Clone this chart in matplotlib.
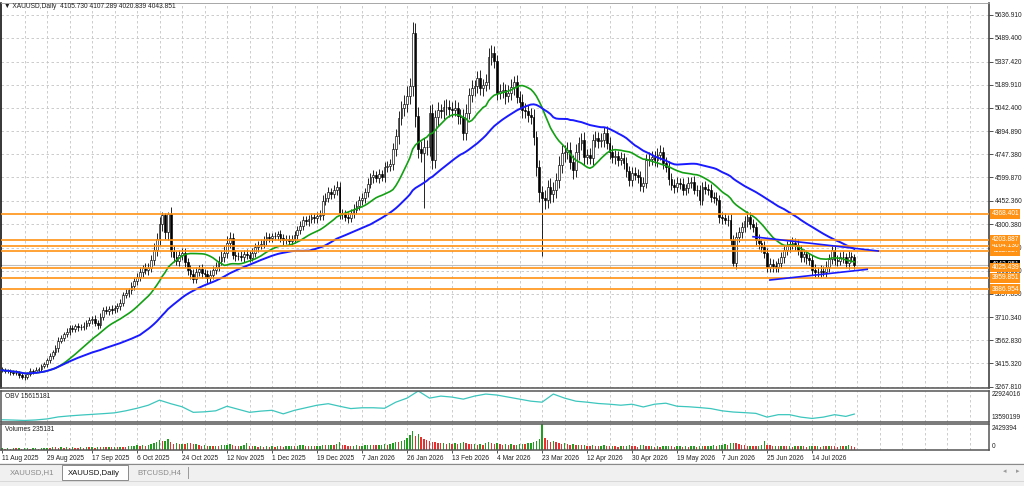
import numpy as np
import pandas as pd
import matplotlib
matplotlib.use('Agg')
import matplotlib.pyplot as plt
from matplotlib.patches import Rectangle
from matplotlib.lines import Line2D

plt.rcParams['font.family'] = ['Liberation Sans', 'DejaVu Sans']

# ---- data (daily bars, 11 Aug 2025 .. end Jul 2026) ----
first_open = 3380
closes = [
    3372, 3365, 3368, 3358, 3352, 3355, 3340, 3330, 3326, 3345, 3368, 3362, 3375, 3380, 3398, 3410,
    3435, 3462, 3485, 3510, 3560, 3575, 3600, 3618, 3640, 3632, 3650, 3644, 3648, 3655, 3672, 3690,
    3700, 3672, 3660, 3712, 3755, 3748, 3760, 3752, 3770, 3778, 3800, 3850, 3862, 3880, 3905, 3940,
    3965, 3998, 4022, 4010, 4025, 4075, 4140, 4210, 4300, 4360, 4250, 4365, 4130, 4095, 4070, 4105,
    4118, 4060, 4012, 3985, 3955, 4000, 4015, 3990, 3985, 3960, 3980, 4010, 4030, 4070, 4095, 4120,
    4182, 4214, 4108, 4100, 4098, 4092, 4110, 4104, 4088, 4120, 4155, 4170, 4175, 4200, 4222, 4215,
    4225, 4228, 4236, 4215, 4200, 4208, 4196, 4205, 4230, 4265, 4290, 4328, 4320, 4335, 4345, 4338,
    4352, 4360, 4450, 4470, 4505, 4495, 4520, 4540, 4375, 4365, 4350, 4340, 4372, 4395, 4420, 4456,
    4470, 4505, 4560, 4600, 4612, 4598, 4618, 4605, 4665, 4672, 4682, 4778, 4860, 4975, 5043, 5070,
    5120, 5180, 5520, 4990, 4780, 4755, 4795, 4790, 5010, 4712, 4985, 5030, 5020, 5045, 5050, 5035,
    5028, 5040, 4990, 4985, 4885, 5010, 5125, 5170, 5180, 5235, 5170, 5188, 5210, 5365, 5392, 5340,
    5140, 5150, 5156, 5120, 5140, 5175, 5208, 5112, 5080, 5030, 5020, 4995, 4985, 4858, 4667, 4505,
    4470, 4456, 4540, 4495, 4520, 4580, 4680, 4754, 4760, 4773, 4700, 4647, 4760, 4818, 4837, 4730,
    4740, 4725, 4835, 4850, 4830, 4840, 4882, 4818, 4760, 4730, 4735, 4711, 4720, 4692, 4640, 4583,
    4628, 4615, 4603, 4545, 4565, 4711, 4715, 4730, 4710, 4745, 4760, 4692, 4667, 4590, 4552, 4539,
    4565, 4560, 4520, 4530, 4565, 4571, 4522, 4518, 4456, 4539, 4525, 4520, 4475, 4470, 4456, 4347,
    4340, 4330, 4328, 4200, 4054, 4220, 4250, 4284, 4320, 4347, 4300, 4284, 4201, 4180, 4157, 4118,
    4029, 4050, 4035, 4030, 4054, 4090, 4137, 4160, 4175, 4182, 4170, 4137, 4093, 4110, 4085, 4073,
    4010, 4000, 3997, 4005, 3999, 4029, 4080, 4137, 4073, 4070, 4093, 4090, 4054, 4095, 4093, 4044,
]
upper_wick = [
    12, 15, 10, 14, 12, 18, 10, 12, 16, 14, 18, 12, 15, 10, 14, 12,
    15, 20, 18, 25, 20, 22, 15, 20, 18, 22, 15, 20, 18, 25, 20, 22,
    18, 25, 20, 22, 18, 24, 20, 26, 18, 22, 25, 20, 24, 18, 26, 22,
    25, 30, 22, 35, 28, 30, 40, 35, 45, 18, 10, 15, 45, 30, 35, 30,
    30, 35, 25, 30, 28, 32, 25, 30, 28, 26, 30, 25, 28, 30, 35, 40,
    45, 40, 30, 28, 25, 30, 28, 32, 25, 30, 28, 26, 30, 24, 28, 25,
    22, 26, 24, 28, 22, 26, 24, 28, 30, 26, 30, 28, 24, 26, 30, 28,
    25, 30, 35, 28, 32, 30, 28, 35, 30, 26, 28, 30, 28, 32, 30, 28,
    30, 28, 35, 30, 32, 28, 35, 30, 34, 30, 35, 40, 45, 50, 45, 55,
    60, 55, 70, 65, 60, 50, 55, 45, 50, 55, 45, 50, 40, 45, 50, 40,
    45, 50, 40, 45, 50, 55, 45, 50, 40, 45, 50, 40, 45, 60, 50, 45,
    40, 45, 50, 40, 45, 50, 40, 45, 40, 50, 45, 40, 45, 50, 40, 45,
    40, 50, 45, 55, 50, 45, 55, 50, 45, 55, 50, 45, 50, 40, 45, 50,
    40, 45, 40, 45, 40, 45, 40, 45, 40, 45, 40, 35, 40, 35, 40, 35,
    35, 40, 35, 40, 35, 40, 45, 40, 35, 40, 45, 35, 40, 35, 40, 35,
    35, 30, 35, 30, 35, 30, 35, 30, 35, 30, 35, 30, 35, 30, 35, 30,
    30, 35, 30, 40, 35, 30, 35, 30, 35, 40, 30, 35, 30, 35, 30, 35,
    30, 35, 30, 35, 30, 35, 30, 35, 30, 35, 30, 35, 30, 35, 30, 35,
    30, 35, 30, 35, 30, 35, 30, 35, 30, 35, 30, 35, 30, 35, 30, 20,
]
lower_wick = [
    14, 10, 12, 16, 12, 10, 15, 12, 14, 10, 12, 16, 10, 14, 12, 10,
    18, 15, 20, 18, 22, 15, 20, 18, 22, 20, 18, 22, 15, 20, 18, 20,
    22, 20, 25, 18, 22, 20, 24, 22, 18, 25, 20, 22, 18, 24, 20, 25,
    28, 25, 30, 28, 32, 30, 35, 40, 38, 45, 40, 50, 40, 35, 30, 32,
    30, 28, 32, 35, 30, 28, 30, 32, 28, 30, 26, 30, 28, 26, 30, 32,
    35, 30, 28, 30, 26, 28, 30, 26, 28, 24, 26, 28, 24, 26, 28, 24,
    24, 22, 26, 24, 28, 22, 26, 24, 22, 26, 28, 24, 26, 28, 24, 26,
    28, 26, 30, 28, 26, 30, 28, 30, 40, 32, 30, 28, 26, 30, 28, 30,
    30, 32, 30, 28, 35, 30, 32, 30, 35, 32, 30, 35, 40, 45, 40, 50,
    55, 50, 60, 70, 60, 55, 350, 50, 55, 60, 50, 55, 45, 50, 45, 50,
    45, 40, 50, 45, 50, 45, 40, 45, 50, 40, 45, 50, 40, 45, 50, 45,
    45, 40, 45, 50, 40, 45, 50, 40, 45, 50, 45, 40, 45, 55, 60, 65,
    370, 55, 50, 60, 55, 50, 45, 50, 55, 45, 50, 55, 45, 50, 45, 50,
    45, 40, 45, 40, 45, 40, 45, 40, 45, 40, 45, 40, 35, 40, 35, 40,
    40, 35, 40, 35, 40, 35, 40, 35, 40, 45, 35, 40, 35, 40, 35, 40,
    30, 35, 30, 35, 30, 35, 30, 35, 30, 35, 30, 35, 30, 35, 30, 35,
    35, 30, 35, 30, 20, 35, 30, 35, 30, 35, 30, 35, 30, 35, 30, 35,
    35, 30, 35, 30, 35, 30, 35, 30, 35, 30, 35, 30, 35, 30, 35, 30,
    30, 35, 30, 35, 30, 35, 30, 35, 30, 35, 30, 35, 30, 35, 30, 25,
]
# tick volume, thousands
volumes = [
    150, 120, 140, 110, 160, 130, 170, 120, 140, 160, 110, 130, 180, 120, 150, 190,
    210, 180, 250, 230, 200, 260, 190, 220, 170, 240, 210, 180, 230, 200, 250, 220,
    240, 210, 280, 230, 260, 220, 300, 250, 270, 230, 310, 290, 260, 330, 350, 380,
    420, 380, 460, 400, 480, 520, 600, 700, 950, 820, 880, 1000, 760, 560, 600, 520,
    580, 560, 620, 600, 540, 580, 480, 380, 420, 360, 400, 340, 380, 320, 420, 460,
    500, 560, 440, 380, 340, 400, 460, 640, 380, 320, 360, 300, 340, 280, 320, 300,
    360, 300, 380, 340, 280, 320, 360, 400, 340, 380, 420, 460, 400, 350, 380, 330,
    360, 400, 440, 420, 480, 500, 460, 540, 730, 480, 420, 380, 360, 400, 420, 380,
    400, 440, 460, 500, 480, 420, 460, 500, 520, 480, 560, 600, 780, 700, 820, 900,
    1100, 1400, 1820, 1300, 1520, 1200, 1050, 900, 820, 760, 700, 640, 600, 680, 560, 620,
    560, 620, 540, 680, 720, 600, 580, 520, 560, 500, 540, 480, 620, 700, 660, 580,
    620, 540, 500, 560, 480, 520, 460, 500, 540, 580, 520, 600, 640, 760, 880, 1000,
    2429.394, 1100, 900, 760, 820, 700, 640, 580, 600, 520, 480, 540, 460, 500, 420, 440,
    400, 360, 420, 380, 340, 400, 440, 360, 320, 380, 340, 300, 360, 320, 400, 440,
    380, 340, 300, 420, 460, 380, 340, 360, 300, 340, 280, 320, 360, 400, 340, 300,
    320, 360, 300, 340, 280, 320, 360, 300, 340, 380, 320, 360, 400, 440, 380, 460,
    500, 540, 480, 600, 660, 640, 560, 480, 420, 380, 400, 360, 340, 380, 420, 790,
    500, 420, 360, 400, 340, 380, 360, 320, 340, 300, 360, 320, 380, 340, 300, 360,
    400, 340, 380, 300, 360, 320, 400, 380, 340, 300, 360, 340, 380, 420, 400, 235.131,
]
# OBV (millions), read every 4th bar and the last bar
obv_bars = list(range(0, 301, 4)) + [303]
obv_values = [
    13.814, 13.718, 13.590, 13.750, 14.072, 14.716, 15.037, 15.295, 15.520, 15.746,
    16.003, 16.647, 17.452, 18.417, 20.027, 18.900, 17.935, 16.164, 16.325, 16.647,
    18.095, 17.130, 16.164, 16.550, 16.808, 15.681, 16.808, 17.613, 18.417, 18.900,
    18.095, 17.355, 17.613, 17.613, 17.452, 19.383, 20.671, 22.924, 20.671, 21.314,
    20.993, 20.349, 21.314, 21.958, 21.636, 20.993, 20.349, 19.705, 19.383, 21.958,
    20.671, 19.705, 19.383, 18.965, 18.739, 18.417, 18.739, 17.870, 18.739, 19.061,
    18.095, 17.935, 17.677, 17.355, 16.647, 16.261, 16.067, 15.842, 14.651, 15.424,
    15.424, 14.651, 14.233, 14.651, 15.424, 14.876, 15.615,
]
date_labels = ['11 Aug 2025', '29 Aug 2025', '17 Sep 2025', '6 Oct 2025', '24 Oct 2025',
               '12 Nov 2025', '1 Dec 2025', '19 Dec 2025', '7 Jan 2026', '26 Jan 2026',
               '13 Feb 2026', '4 Mar 2026', '23 Mar 2026', '12 Apr 2026', '30 Apr 2026',
               '19 May 2026', '7 Jun 2026', '25 Jun 2026', '14 Jul 2026']
price_ticks = [5636.910, 5489.400, 5337.420, 5189.910, 5042.400, 4894.890, 4747.380,
               4599.870, 4452.360, 4300.380, 4152.870, 4005.360, 3857.850, 3710.340,
               3562.830, 3415.320, 3267.810]
levels = [4368.401, 4203.887, 4164.130, 4132.527, 4025.439, 3959.851, 3886.954]
bid = 4043.851
trend_upper = ([267, 311.5], [4221.7, 4130.7])
trend_lower = ([273, 307.6], [3945.9, 4014.0])
tabs = ['XAUUSD,H1', 'XAUUSD,Daily', 'BTCUSD,H4']

# ---- figure in pixel layout ----
W, H = 1024, 486
fig = plt.figure(figsize=(W / 100, H / 100), dpi=100)
fig.patch.set_facecolor('white')


def box(x0, y0, x1, y1):
    return [x0 / W, 1 - y1 / H, (x1 - x0) / W, (y1 - y0) / H]


def px(x, y):
    return x / W, 1 - y / H


ax = fig.add_axes(box(1, 3, 989, 388))
ax_obv = fig.add_axes(box(1, 390.5, 989, 421.5))
ax_vol = fig.add_axes(box(1, 423.5, 989, 450))

closes = np.array(closes, float)
n = len(closes)
idx = np.arange(n)
opens = np.r_[first_open, closes[:-1]]
highs = np.maximum(opens, closes) + np.array(upper_wick)
lows = np.minimum(opens, closes) - np.array(lower_wick)

xmin, xmax = -0.356, 350.9
grid_x = np.arange(0, 351, 8)
gkw = dict(color='#c4c4c4', lw=0.6, ls=(0, (3, 3)))

for a in (ax, ax_obv, ax_vol):
    a.set_xlim(xmin, xmax)
    a.set_facecolor('white')
    for gx in grid_x[1:]:
        a.axvline(gx, zorder=0, **gkw)
    a.tick_params(axis='x', bottom=False, labelbottom=False)
    for s in a.spines.values():
        s.set_color('#555555')
        s.set_linewidth(1.1)

# main price panel
ax.set_ylim(3258.26, 5710.15)
for t in price_ticks:
    ax.axhline(t, zorder=0, **gkw)

ax.vlines(idx, lows, highs, color='black', lw=0.6, zorder=2)
body_lo = np.minimum(opens, closes)
body_h = np.maximum(np.abs(closes - opens), 3)
up = closes >= opens
ax.bar(idx[up], body_h[up], bottom=body_lo[up], width=0.62, color='white',
       edgecolor='black', lw=0.45, zorder=3)
ax.bar(idx[~up], body_h[~up], bottom=body_lo[~up], width=0.62, color='black',
       edgecolor='black', lw=0.45, zorder=3)

ma_fast = pd.Series(closes).rolling(20, min_periods=1).mean()
ma_slow = pd.Series(closes).rolling(50, min_periods=1).mean()
ax.plot(idx, ma_fast, color='#14a014', lw=1.2, zorder=4)
ax.plot(idx, ma_slow, color='#1a1aff', lw=1.4, zorder=4)

ax.axhline(bid, color='#bdbdbd', lw=0.8, zorder=1)
for lvl in levels:
    ax.axhline(lvl, color='#ff9214', lw=1.2, zorder=5)
ax.plot(*trend_upper, color='#1a1aff', lw=1.2, zorder=6)
ax.plot(*trend_lower, color='#1a1aff', lw=1.2, zorder=6)

ax.yaxis.tick_right()
ax.set_yticks(price_ticks)
ax.set_yticklabels([f'{t:.3f}' for t in price_ticks])
ax.tick_params(axis='y', length=3, width=0.6, labelsize=4.8, pad=1.2,
               color='#333333', labelcolor='#222222')
ax.spines['left'].set_color('black')
ax.spines['right'].set_color('#333333')
ax.spines['top'].set_color('#999999')
ax.spines['top'].set_linewidth(0.6)

lab_kw = dict(transform=ax.get_yaxis_transform(), ha='left', va='center',
              fontsize=4.8, clip_on=False)
ax.text(1.0025, bid, f'{bid:.3f}', color='white', zorder=7,
        bbox=dict(boxstyle='square,pad=0.2', fc='black', ec='none'), **lab_kw)
for k, lvl in enumerate(sorted(levels)):
    ax.text(1.0025, lvl, f'{lvl:.3f}', color='white', zorder=8 + k,
            bbox=dict(boxstyle='square,pad=0.2', fc='#ff9214', ec='none'), **lab_kw)

# OBV panel
obv_lo, obv_hi = 13.590, 22.924
ax_obv.plot(obv_bars, obv_values, color='#3cc6bd', lw=0.9)
ax_obv.set_ylim(obv_lo - 0.33, obv_hi + 0.16)
ax_obv.set_yticks([])

# Volumes panel
vols = np.array(volumes)
vcol = ['#1f9e1f' if k == 0 or vols[k] > vols[k - 1] else '#e83030' for k in range(n)]
ax_vol.bar(idx, vols, width=0.5, color=vcol, zorder=2)
ax_vol.set_ylim(-20, 2500)
ax_vol.set_yticks([])
ax_vol.set_xticks(np.arange(0, 16 * len(date_labels), 16))
ax_vol.set_xticklabels(date_labels, ha='left')
ax_vol.tick_params(axis='x', bottom=True, labelbottom=True, length=2, width=0.6,
                   labelsize=4.8, pad=1.5, color='#333333', labelcolor='#222222')

# panel captions and right-hand scale labels
txt = dict(fontsize=4.8, color='#222222', va='center')
fig.text(*px(4, 7), '\u25bc XAUUSD,Daily  4105.730 4107.289 4020.839 4043.851', **txt)
fig.text(*px(5, 396), 'OBV 15615181', **txt)
fig.text(*px(5, 429), 'Volumes 235131', **txt)
fig.text(*px(992, 394), '22924016', **txt)
fig.text(*px(992, 417), '13590199', **txt)
fig.text(*px(992, 428), '2429394', **txt)
fig.text(*px(992, 446), '0', **txt)

# terminal tab strip
fig.add_artist(Rectangle(px(0, 486), 1, 23 / H, transform=fig.transFigure,
                         fc='#f0f0f0', ec='none', zorder=0))
fig.add_artist(Line2D([0, 1], [1 - 464 / H] * 2, color='#8a8a8a', lw=0.8))
fig.add_artist(Line2D([0, 1], [1 - 480.5 / H] * 2, color='#d4d4d4', lw=0.6))
fig.add_artist(Rectangle(px(62, 480), 66 / W, 15 / H, transform=fig.transFigure,
                         fc='white', ec='#8a8a8a', lw=0.7, zorder=1))
fig.add_artist(Line2D([188 / W] * 2, [1 - 467 / H, 1 - 478 / H], color='#9a9a9a', lw=0.7))
tab_x = [10, 68, 137]
for name, tx in zip(tabs, tab_x):
    col = '#111111' if name == 'XAUUSD,Daily' else '#8a8a8a'
    fig.text(*px(tx, 473), name, fontsize=5.6, color=col, va='center', zorder=3)
fig.text(*px(1003, 472), '\u25c2', fontsize=5, color='#9a9a9a', va='center')
fig.text(*px(1016, 472), '\u25b8', fontsize=5, color='#9a9a9a', va='center')

fig.savefig('out.png', dpi=100)
